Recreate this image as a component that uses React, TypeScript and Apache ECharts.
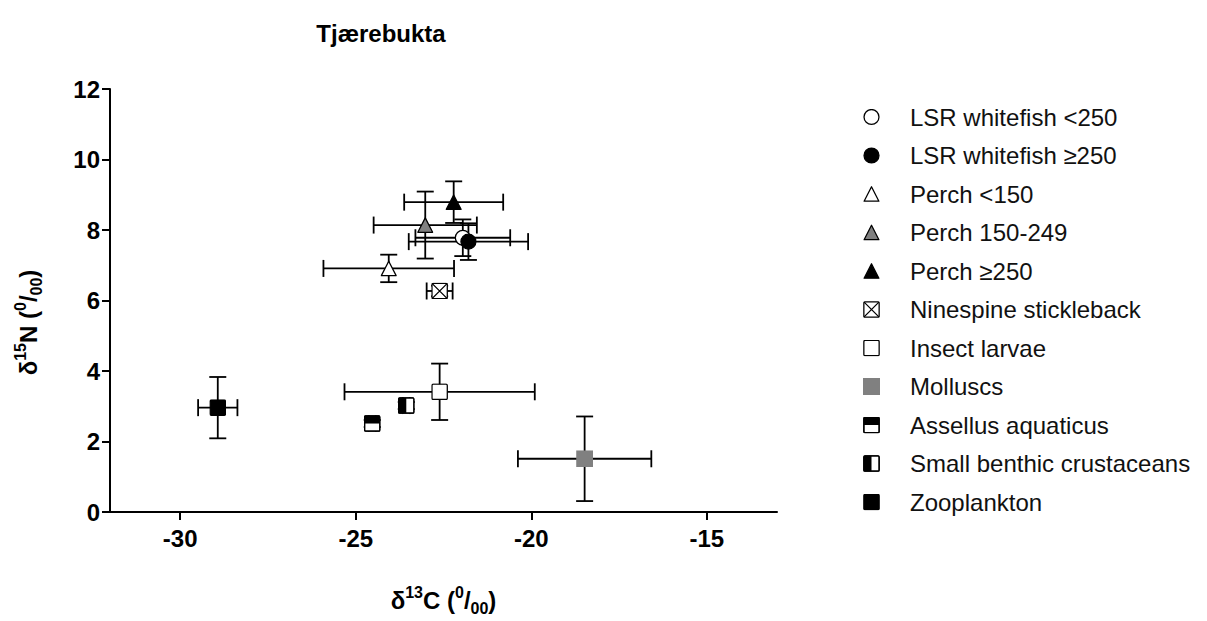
import React, { useEffect, useRef } from "react";
import * as echarts from "echarts";

// ---- data ----
const groupNames = [
  "LSR whitefish <250",
  "LSR whitefish ≥250",
  "Perch <150",
  "Perch 150-249",
  "Perch ≥250",
  "Ninespine stickleback",
  "Insect larvae",
  "Molluscs",
  "Assellus aquaticus",
  "Small benthic crustaceans",
  "Zooplankton",
];
const d13C = [-21.95, -21.79, -24.06, -23.02, -22.21, -22.61, -22.61, -18.48, -24.53, -23.56, -28.93];
const d15N = [7.78, 7.67, 6.91, 8.14, 8.79, 6.27, 3.41, 1.51, 2.51, 3.02, 2.96];
const d13CErr = [1.35, 1.7, 1.86, 1.47, 1.41, 0.37, 2.71, 1.9, 0.1, 0.1, 0.56];
const d15NErr = [0.52, 0.52, 0.39, 0.95, 0.59, 0.15, 0.8, 1.2, 0.1, 0.1, 0.87];
const xTicks = [-30, -25, -20, -15];

// ---- marker styles ----
const svgUri = (body: string) =>
  "image://data:image/svg+xml;charset=utf-8," +
  encodeURIComponent(
    `<svg xmlns="http://www.w3.org/2000/svg" width="40" height="40" viewBox="0 0 20 20">${body}</svg>`
  );
const sq = 'x="1" y="1" width="18" height="18" rx="1.5"';
const markers = [
  svgUri('<circle cx="10" cy="10" r="8.8" fill="#fff" stroke="#000" stroke-width="1.5"/>'),
  svgUri('<circle cx="10" cy="10" r="8.8" fill="#000" stroke="#000" stroke-width="1.5"/>'),
  svgUri('<polygon points="10,1.5 18.7,18.5 1.3,18.5" fill="#fff" stroke="#000" stroke-width="1.5" stroke-linejoin="round"/>'),
  svgUri('<polygon points="10,1.5 18.7,18.5 1.3,18.5" fill="#808080" stroke="#000" stroke-width="1.5" stroke-linejoin="round"/>'),
  svgUri('<polygon points="10,1.5 18.7,18.5 1.3,18.5" fill="#000" stroke="#000" stroke-width="1.5" stroke-linejoin="round"/>'),
  svgUri(`<rect ${sq} fill="#fff" stroke="#000" stroke-width="1.5"/><path d="M1,1 L19,19 M19,1 L1,19" stroke="#000" stroke-width="1.5"/>`),
  svgUri(`<rect ${sq} fill="#fff" stroke="#000" stroke-width="1.5"/>`),
  svgUri('<rect x="0" y="0" width="20" height="20" fill="#808080"/>'),
  svgUri(`<rect ${sq} fill="#fff" stroke="#000" stroke-width="1.5"/><rect x="1" y="1" width="18" height="9" fill="#000"/><rect ${sq} fill="none" stroke="#000" stroke-width="1.5"/>`),
  svgUri(`<rect ${sq} fill="#fff" stroke="#000" stroke-width="1.5"/><rect x="1" y="1" width="9" height="18" fill="#000"/><rect ${sq} fill="none" stroke="#000" stroke-width="1.5"/>`),
  svgUri(`<rect ${sq} fill="#000" stroke="#000" stroke-width="1.5"/>`),
];

const FONT = "'Liberation Sans', Arial, sans-serif";

const nameRich = {
  a: { fontSize: 24, fontWeight: "bold", fontFamily: FONT, color: "#000", lineHeight: 32 },
  sup: { fontSize: 16, fontWeight: "bold", fontFamily: FONT, color: "#000", lineHeight: 16, verticalAlign: "top" },
  sub: { fontSize: 16, fontWeight: "bold", fontFamily: FONT, color: "#000", lineHeight: 16, verticalAlign: "bottom" },
};

export default function App() {
  const ref = useRef<HTMLDivElement>(null);
  useEffect(() => {
    document.body.style.margin = "0";
    if (!ref.current) return;
    const chart = echarts.init(ref.current, undefined, { renderer: "svg" });

    const scatterSeries = groupNames.map((n, i) => ({
      type: "scatter",
      name: n,
      data: [[d13C[i], d15N[i]]],
      symbol: markers[i],
      symbolSize: 17,
      itemStyle: { opacity: 1 },
      z: 3,
      silent: true,
    }));

    const errData = groupNames.map((_, i) => [d13C[i], d15N[i], d13CErr[i], d15NErr[i]]);

    const option: any = {
      animation: false,
      backgroundColor: "#fff",
      title: {
        text: "Tjærebukta",
        left: 376,
        top: 16,
        textAlign: "center",
        textStyle: { fontFamily: FONT, fontWeight: "bold", fontSize: 24, color: "#000" },
      },
      grid: { left: 110, right: 430, top: 89, bottom: 88, containLabel: false },
      legend: {
        orient: "vertical",
        left: 863,
        top: 105,
        padding: 0,
        itemWidth: 17,
        itemHeight: 17,
        itemGap: 14.5,
        data: groupNames,
        selectedMode: false,
        itemStyle: { opacity: 1 },
        textStyle: {
          fontFamily: FONT,
          fontSize: 24,
          color: "#111",
          lineHeight: 24,
          padding: [0, 0, 0, 25],
        },
      },
      xAxis: {
        type: "value",
        min: -32,
        max: -13,
        name: "{a|δ}{sup|13}{a|C (}{sup|0}{a|/}{sub|00}{a|)}",
        nameLocation: "middle",
        nameGap: 72,
        nameTextStyle: { rich: nameRich },
        splitLine: { show: false },
        axisLine: { show: true, onZero: false, lineStyle: { color: "#000", width: 2 } },
        axisTick: { show: true, customValues: xTicks, length: 8, lineStyle: { color: "#000", width: 2 } },
        axisLabel: {
          customValues: xTicks,
          margin: 14,
          fontFamily: FONT,
          fontWeight: "bold",
          fontSize: 24,
          color: "#000",
        },
      },
      yAxis: {
        type: "value",
        min: 0,
        max: 12,
        interval: 2,
        name: "{a|δ}{sup|15}{a|N (}{sup|0}{a|/}{sub|00}{a|)}",
        nameLocation: "middle",
        nameRotate: 90,
        nameGap: 66,
        nameTextStyle: { rich: nameRich, padding: [0, 44, 0, 0] },
        splitLine: { show: false },
        axisLine: { show: true, onZero: false, lineStyle: { color: "#000", width: 2 } },
        axisTick: { show: true, length: 8, lineStyle: { color: "#000", width: 2 } },
        axisLabel: {
          margin: 10,
          fontFamily: FONT,
          fontWeight: "bold",
          fontSize: 24,
          color: "#000",
        },
      },
      series: [
        {
          type: "custom",
          name: "errorbars",
          z: 2,
          silent: true,
          encode: { x: 0, y: 1 },
          data: errData,
          renderItem: (_params: any, api: any) => {
            const x = api.value(0);
            const y = api.value(1);
            const xe = api.value(2);
            const ye = api.value(3);
            const c = api.coord([x, y]);
            const l = api.coord([x - xe, y]);
            const r = api.coord([x + xe, y]);
            const t = api.coord([x, y + ye]);
            const b = api.coord([x, y - ye]);
            const cap = 8.5;
            const st = { stroke: "#000", lineWidth: 1.8 };
            const ln = (x1: number, y1: number, x2: number, y2: number) => ({
              type: "line",
              shape: { x1, y1, x2, y2 },
              style: st,
            });
            return {
              type: "group",
              children: [
                ln(l[0], c[1], r[0], c[1]),
                ln(l[0], c[1] - cap, l[0], c[1] + cap),
                ln(r[0], c[1] - cap, r[0], c[1] + cap),
                ln(c[0], t[1], c[0], b[1]),
                ln(c[0] - cap, t[1], c[0] + cap, t[1]),
                ln(c[0] - cap, b[1], c[0] + cap, b[1]),
              ],
            };
          },
        },
        ...scatterSeries,
      ],
    };
    chart.setOption(option);
    return () => chart.dispose();
  }, []);
  return <div ref={ref} style={{ width: 1207, height: 621 }} />;
}
